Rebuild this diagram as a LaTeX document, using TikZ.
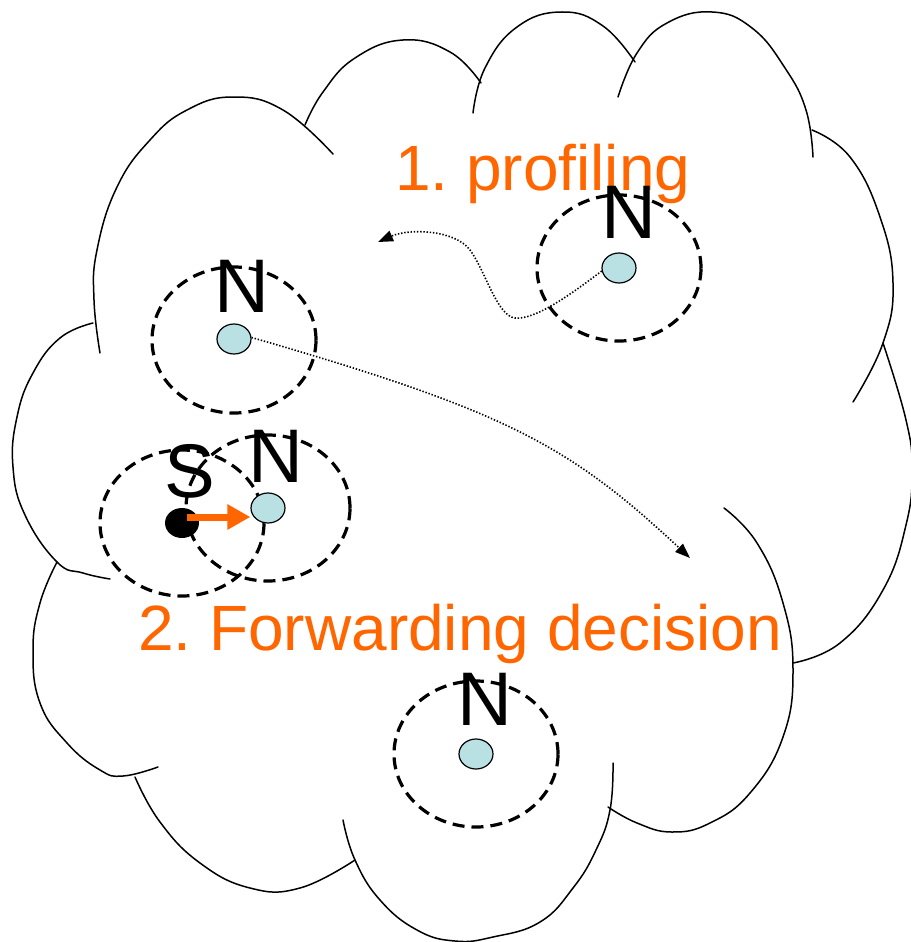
\documentclass[tikz,border=0pt]{standalone}
\usepackage{fontspec}
\setmainfont{Liberation Sans}
\usetikzlibrary{arrows.meta,shapes.geometric}
\definecolor{flame}{RGB}{255,102,0}
\definecolor{paleblue}{RGB}{185,224,227}
\frenchspacing

\begin{document}
\begin{tikzpicture}[x=1pt,y=-1pt,
  lobe/.style={line width=1.5pt, line join=round, line cap=round},
  rangering/.style={draw, ellipse, line width=3.2pt, dash pattern=on 12pt off 7pt,
    minimum width=164pt, minimum height=146pt, inner sep=0pt},
  peer/.style={draw, ellipse, line width=1.2pt, fill=paleblue,
    minimum width=34pt, minimum height=30pt, inner sep=0pt},
  source/.style={ellipse, fill=black, minimum width=34pt, minimum height=30pt, inner sep=0pt},
  tag/.style={font=\fontsize{76}{76}\selectfont, inner sep=0pt, anchor=base},
  phase/.style={text=flame, font=\fontsize{64}{64}\selectfont, inner sep=0pt, anchor=base west},
  trail/.style={line width=1.6pt, dash pattern=on 1.4pt off 1.8pt,
    -{Triangle[length=15pt,width=11pt]}},
  push/.style={draw=flame, line width=7pt, -{Triangle[length=23pt,width=24pt]}}]

\useasboundingbox (0,0) rectangle (910,942);

% cloud outline, one arc per lobe
\begin{scope}[every path/.append style={lobe}]
\draw plot[smooth, tension=0.75] coordinates {(100,353) (94,300) (97,250) (117,187) (150,140) (187,110) (233,97) (283,110) (333,154)};
\draw plot[smooth, tension=0.75] coordinates {(305,125) (323,92) (355,58) (403,40) (450,52) (481,83)};
\draw plot[smooth, tension=0.75] coordinates {(473,113) (485,68) (517,27) (562,12) (603,26) (635,62)};
\draw plot[smooth, tension=0.75] coordinates {(618,97) (637,53) (667,23) (712,12) (752,28) (785,68) (806,110) (813,157)};
\draw plot[smooth, tension=0.75] coordinates {(812,130) (850,157) (880,217) (893,283) (883,343) (853,402)};
\draw plot[smooth, tension=0.75] coordinates {(883,343) (906,420) (912,470) (906,525) (883,590) (840,643) (793,663)};
\draw plot[smooth, tension=0.75] coordinates {(724,508) (757,543) (783,603) (793,670) (783,737) (750,793) (710,823) (672,832) (637,823) (608,807)};
\draw plot[smooth, tension=0.75] coordinates {(613,763) (610,810) (596,850) (573,888) (540,922) (493,937) (455,941) (417,930) (380,900) (355,860) (343,820)};
\draw plot[smooth, tension=0.75] coordinates {(135,777) (160,822) (200,863) (250,888) (300,888) (355,860)};
\draw plot[smooth, tension=0.75] coordinates {(57,562) (40,603) (33,650) (40,703) (67,743) (100,770) (123,776) (158,767)};
\draw plot[smooth, tension=0.75] coordinates {(93,323) (60,338) (33,373) (17,417) (13,467) (25,515) (57,562) (83,573) (110,579)};
\end{scope}

% phase captions
\node[phase] (cap1) at (395,190) {1. profiling};
\node[phase] (cap2) at (138,650) {2. Forwarding decision};

% radio ranges
\node[rangering] (r1) at (234,340) {};
\node[rangering] (r2) at (619,268) {};
\node[rangering] (r3) at (268,508) {};
\node[rangering] (rs) at (182,523) {};
\node[rangering] (r4) at (476,754) {};

% nodes
\node[peer] (n1) at (234,339) {};
\node[peer] (n2) at (619,268) {};
\node[peer] (n3) at (268,508) {};
\node[peer] (n4) at (476,754) {};
\node[source] (s) at (182,523) {};

% labels
\node[tag] (t1) at (242,312) {N};
\node[tag] (t2) at (629,238) {N};
\node[tag] (t3) at (276,482) {N};
\node[tag] (t4) at (485,725) {N};
\node[tag] (ts) at (190,497) {S};

% profiling and forwarding traces
\coordinate (p1) at (378,242);
\coordinate (p2) at (690,558);
\draw[trail] (n2.190) .. controls (570,295) and (535,320) .. (515,318)
  .. controls (497,316) and (485,270) .. (470,250)
  .. controls (455,230) and (410,228) .. (p1);
\draw[trail] (n1.5) .. controls (507,411) and (570,446) .. (p2);

% forwarding step from the source
\coordinate (a0) at (187,517);
\draw[push] (a0) -- (a0 -| n3.west);
\end{tikzpicture}
\end{document}
